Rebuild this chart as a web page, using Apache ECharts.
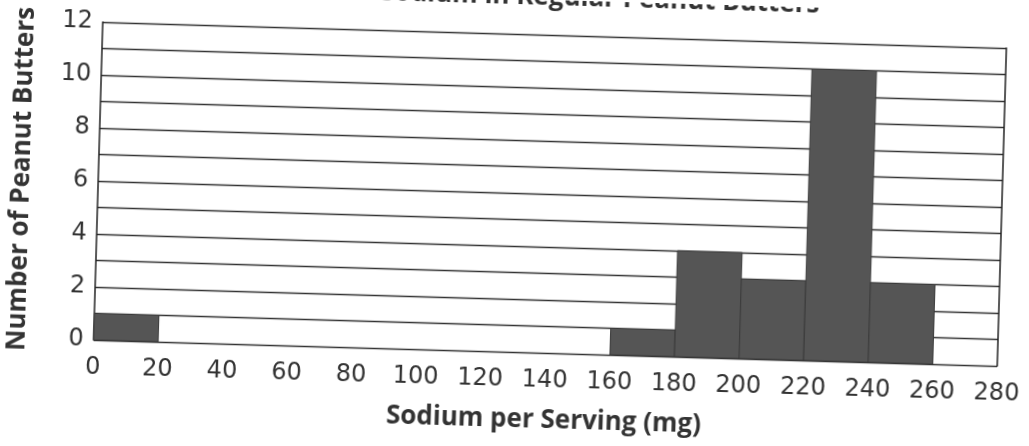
<!DOCTYPE html>
<html>
<head>
<meta charset="utf-8">
<title>Sodium in Regular Peanut Butters</title>
<script src="https://cdn.jsdelivr.net/npm/echarts@6/dist/echarts.min.js"></script>
<style>
	html,body{margin:0;padding:0;background:#fff;overflow:hidden;}
	#chart{width:1029px;height:446px;transform:rotate(1.65deg);transform-origin:550px 194px;}
</style>
</head>
<body>
<div id="chart"></div>
<script>
	// histogram bins, 20 mg wide
	var binStart = [0,20,40,60,80,100,120,140,160,180,200,220,240,260];
	var binEnd = [20,40,60,80,100,120,140,160,180,200,220,240,260,280];
	var counts = [1,0,0,0,0,0,0,0,1,4,3,11,3,0];

	var barData = [];
	for(var i = 0; i < counts.length; i++){
		if(counts[i] > 0){
			barData.push([binStart[i], binEnd[i], counts[i]]);
		}
	}

	var textColor = '#333';
	var boldFont = '"Open Sans", "Noto Sans", sans-serif';
	var labelFont = '"DejaVu Sans", sans-serif';

	var myChart = echarts.init(document.getElementById('chart'));
	var option = {
		backgroundColor: '#fff',
		animation: false,
		title: {
			text: 'Sodium in Regular Peanut Butters',
			right: 210,
			top: -20,
			textStyle: {color: textColor, fontSize: 26, fontWeight: 'bold', fontFamily: boldFont}
		},
		grid: {left: 98, right: 27, top: 35, bottom: 93},
		xAxis: {
			type: 'value',
			min: 0,
			max: 280,
			interval: 20,
			name: 'Sodium per Serving (mg)',
			nameLocation: 'middle',
			nameGap: 55,
			nameTextStyle: {color: textColor, fontSize: 26, fontWeight: 'bold', fontFamily: boldFont},
			axisLine: {show: false},
			axisTick: {show: false},
			splitLine: {show: false},
			axisLabel: {color: textColor, fontSize: 24, margin: 16, fontFamily: labelFont}
		},
		yAxis: [{
			type: 'value',
			min: 0,
			max: 12,
			interval: 1,
			name: 'Number of Peanut Butters',
			nameLocation: 'middle',
			nameGap: 63,
			nameTextStyle: {color: textColor, fontSize: 26, fontWeight: 'bold', fontFamily: boldFont},
			axisLine: {show: true, lineStyle: {color: '#222', width: 1.5}},
			axisTick: {show: false},
			splitLine: {show: true, lineStyle: {color: '#333', width: 1.3}},
			axisLabel: {
				color: textColor, fontSize: 24, margin: 10, fontFamily: labelFont,
				formatter: function(v){ return v % 2 === 0 ? v : ''; }
			}
		},{
			type: 'value',
			min: 0,
			max: 12,
			position: 'right',
			axisLine: {show: true, lineStyle: {color: '#222', width: 1.5}},
			axisTick: {show: false},
			axisLabel: {show: false},
			splitLine: {show: false}
		}],
		series: [{
			type: 'custom',
			data: barData,
			encode: {x: [0, 1], y: 2},
			renderItem: function(params, api){
				var p0 = api.coord([api.value(0), 0]);
				var p1 = api.coord([api.value(1), api.value(2)]);
				return {
					type: 'rect',
					shape: {x: p0[0], y: p1[1], width: p1[0] - p0[0], height: p0[1] - p1[1]},
					style: {fill: '#555', stroke: '#3a3a3a', lineWidth: 1}
				};
			}
		}]
	};
	myChart.setOption(option);
</script>
</body>
</html>
